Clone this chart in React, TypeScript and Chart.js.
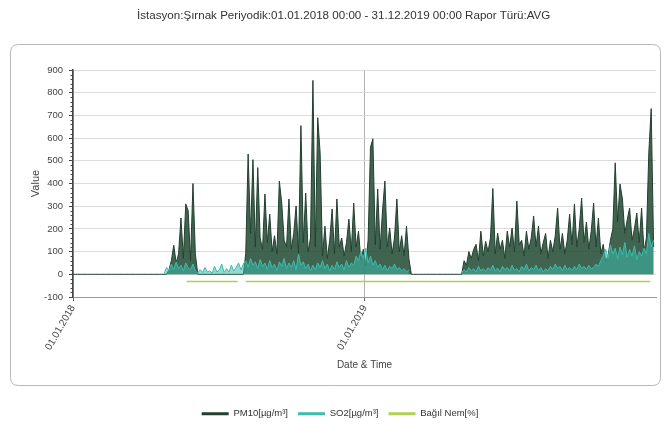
import React, { useEffect, useRef } from "react";
import { Chart, registerables } from "chart.js";

Chart.register(...registerables);

const TITLE = "İstasyon:Şırnak Periyodik:01.01.2018 00:00 - 31.12.2019 00:00 Rapor Türü:AVG";
const SERIES_NAMES = ["PM10[µg/m³]", "SO2[µg/m³]", "Bağıl Nem[%]"];
const X_TICK_DAYS = [0, 365];
const X_TICK_LABELS = ["01.01.2018", "01.01.2019"];
const X_MAX_DAY = 729;
const DAY_STEP = 3;
const Y_MIN = -100;
const Y_MAX = 900;
const Y_STEP = 100;
const Y_MINOR_STEP = 20;

// PM10, one value every 3 days from 01.01.2018
const pm10: (number | null)[] = [
  0, 0, 0, 0, 0, 0, 0, 0, 0, 0,
  0, 0, 0, 0, 0, 0, 0, 0, 0, 0,
  0, 0, 0, 0, 0, 0, 0, 0, 0, 0,
  0, 0, 0, 0, 0, 0, 0, 0, 0, 0,
  20, 60, 128, 50, 90, 248, 70, 310, 280, 60,
  400, 90, 0, 0, 0, 0, 0, 0, 0, 0,
  0, 0, 0, 0, 0, 0, 0, 0, 0, 0,
  0, 0, 90, 530, 180, 505, 120, 470, 160, 110,
  354, 140, 265, 100, 170, 90, 411, 314, 150, 120,
  332, 110, 180, 301, 90, 655, 140, 358, 100, 160,
  854, 120, 690, 535, 80, 212, 70, 150, 288, 90,
  332, 120, 160, 80, 140, 243, 100, 314, 120, 190,
  60, 110, 40, 150, 560, 597, 130, 376, 110, 279,
  411, 120, 204, 90, 160, 332, 100, 170, 80, 212,
  70, 0, 0, 0, 0, 0, 0, 0, 0, 0,
  0, 0, 0, 0, 0, 0, 0, 0, 0, 0,
  0, 0, 0, 60, 40, 100, 70, 110, 132, 60,
  190, 80, 145, 100, 160, 378, 90, 181, 110, 150,
  70, 190, 120, 204, 100, 323, 130, 150, 80, 190,
  110, 160, 257, 120, 212, 90, 140, 180, 70, 150,
  100, 170, 292, 110, 180, 90, 150, 265, 130, 310,
  120, 200, 336, 140, 230, 110, 190, 314, 120, 248,
  90, 132, 60, 80, 150, 200, 491, 230, 398, 332,
  180, 240, 292, 150, 200, 270, 140, 292, 100, 160,
  535, 730, 120, null,
];

// SO2, same dates
const so2: (number | null)[] = [
  null, null, null, null, null, null, null, null, null, null,
  null, null, null, null, null, null, null, null, null, null,
  null, null, null, null, null, null, null, null, null, null,
  null, null, null, null, null, null, null, null, 5, 30,
  15, 45, 20, 55, 25, 40, 15, 50, 30, 20,
  45, 15, 5, 20, 8, 30, 10, 15, 5, 35,
  10, 20, 45, 8, 25, 10, 40, 15, 30, 50,
  20, 45, 60, 30, 70, 40, 55, 25, 65, 35,
  50, 20, 60, 30, 45, 15, 55, 35, 70, 25,
  50, 30, 60, 20, 90, 40, 55, 25, 45, 15,
  40, 20, 50, 30, 60, 25, 45, 15, 40, 20,
  55, 30, 45, 20, 60, 30, 50, 40, 80, 60,
  100, 70, 115, 50, 80, 40, 60, 30, 45, 20,
  40, 15, 35, 25, 45, 20, 30, 15, 25, 10,
  20, null, null, null, null, null, null, null, null, null,
  null, null, null, null, null, null, null, null, null, null,
  null, null, 8, 20, 10, 30, 15, 25, 10, 35,
  15, 25, 12, 30, 18, 40, 15, 28, 10, 35,
  20, 30, 12, 40, 18, 25, 10, 35, 20, 45,
  15, 30, 20, 40, 15, 30, 10, 25, 15, 35,
  20, 45, 25, 35, 15, 40, 20, 30, 15, 35,
  20, 45, 25, 35, 20, 40, 25, 30, 45, 35,
  60, 80, 110, 70, 130, 90, 115, 70, 120, 85,
  140, 75, 110, 80, 125, 65, 100, 80, 115, 90,
  180, 120, 150, null,
];

// Relative humidity (flat line as drawn)
const humDays = [142, 206, 210, 216, 722];
const humValues: (number | null)[] = [-32, -32, null, -32, -32];

const COLORS = ["#223f30", "#3dbcac", "#b3cf52"];
const FILLS = ["rgba(34,74,52,0.86)", "rgba(61,188,172,0.55)", "transparent"];

const days = pm10.map((_, i) => i * DAY_STEP);
const FONT = "'Liberation Sans', Arial, sans-serif";

export default function App() {
  const ref = useRef<HTMLCanvasElement | null>(null);

  useEffect(() => {
    if (!ref.current) return;

    const boxPlugin = {
      id: "frameBox",
      beforeDraw(chart: any) {
        const ctx = chart.ctx;
        ctx.save();
        ctx.fillStyle = "#ffffff";
        ctx.fillRect(0, 0, chart.width, chart.height);
        const x = 10.5, y = 44.5, w = 650, h = 341, r = 8;
        ctx.beginPath();
        ctx.moveTo(x + r, y);
        ctx.lineTo(x + w - r, y);
        ctx.quadraticCurveTo(x + w, y, x + w, y + r);
        ctx.lineTo(x + w, y + h - r);
        ctx.quadraticCurveTo(x + w, y + h, x + w - r, y + h);
        ctx.lineTo(x + r, y + h);
        ctx.quadraticCurveTo(x, y + h, x, y + h - r);
        ctx.lineTo(x, y + r);
        ctx.quadraticCurveTo(x, y, x + r, y);
        ctx.closePath();
        ctx.strokeStyle = "#b8b8b8";
        ctx.lineWidth = 1;
        ctx.stroke();
        ctx.restore();
      },
    };

    const minorTicks = {
      id: "minorTicks",
      afterDraw(chart: any) {
        const ys = chart.scales.y;
        const ctx = chart.ctx;
        const left = chart.chartArea.left;
        ctx.save();
        ctx.strokeStyle = "#444";
        ctx.lineWidth = 1;
        for (let v = Y_MIN; v <= Y_MAX; v += Y_MINOR_STEP) {
          if (v % Y_STEP === 0) continue;
          const py = Math.round(ys.getPixelForValue(v)) + 0.5;
          ctx.beginPath();
          ctx.moveTo(left - 2.5, py);
          ctx.lineTo(left, py);
          ctx.stroke();
        }
        ctx.restore();
      },
    };

    const chart = new Chart(ref.current, {
      type: "line",
      data: {
        datasets: [
          {
            label: SERIES_NAMES[0],
            data: pm10.map((v, i) => ({ x: days[i], y: v })) as any,
            borderColor: COLORS[0],
            backgroundColor: FILLS[0],
            fill: "origin",
            borderWidth: 1,
            pointRadius: 0,
            order: 2,
          },
          {
            label: SERIES_NAMES[1],
            data: so2.map((v, i) => ({ x: days[i], y: v })) as any,
            borderColor: COLORS[1],
            backgroundColor: FILLS[1],
            fill: "origin",
            borderWidth: 1,
            pointRadius: 0,
            order: 1,
          },
          {
            label: SERIES_NAMES[2],
            data: humValues.map((v, i) => ({ x: humDays[i], y: v })) as any,
            borderColor: COLORS[2],
            backgroundColor: FILLS[2],
            fill: false,
            borderWidth: 1.5,
            pointRadius: 0,
            order: 0,
          },
        ],
      },
      options: {
        responsive: false,
        animation: false,
        devicePixelRatio: 1,
        layout: { padding: { left: 24, right: 9, top: 70, bottom: 5.5 } },
        font: { family: FONT } as any,
        plugins: {
          title: { display: false },
          tooltip: { enabled: false },
          legend: {
            position: "bottom",
            labels: {
              boxWidth: 27,
              boxHeight: 3,
              padding: 10,
              color: "#333",
              font: { size: 9.5, family: FONT },
              generateLabels: (c: any) =>
                c.data.datasets.map((ds: any, i: number) => ({
                  text: ds.label,
                  fillStyle: ds.borderColor,
                  strokeStyle: ds.borderColor,
                  lineWidth: 0,
                  hidden: false,
                  datasetIndex: i,
                  fontColor: "#333",
                })),
            },
          },
        },
        scales: {
          x: {
            type: "linear",
            min: 0,
            max: X_MAX_DAY,
            afterBuildTicks: (scale: any) => {
              scale.ticks = X_TICK_DAYS.map((v) => ({ value: v }));
            },
            afterFit: (scale: any) => {
              scale.height = 102;
            },
            ticks: {
              autoSkip: false,
              minRotation: 60,
              maxRotation: 60,
              padding: 2,
              color: "#444",
              font: { size: 10, family: FONT },
              callback: (v: any) => {
                const idx = X_TICK_DAYS.indexOf(Number(v));
                return idx >= 0 ? X_TICK_LABELS[idx] : "";
              },
            },
            grid: { color: "#b0b0b0", tickColor: "#666", tickLength: 4 },
            border: { color: "#999", width: 1 },
            title: {
              display: true,
              text: "Date & Time",
              color: "#444",
              font: { size: 10, family: FONT },
              padding: { top: 0, bottom: 28 },
            },
          },
          y: {
            min: Y_MIN,
            max: Y_MAX,
            afterFit: (scale: any) => {
              scale.width = 49;
            },
            ticks: {
              stepSize: Y_STEP,
              padding: 6,
              color: "#444",
              font: { size: 9.5, family: FONT },
            },
            grid: { color: "#dcdcdc", tickColor: "#444", tickLength: 4 },
            border: { color: "#444", width: 1.5 },
            title: {
              display: true,
              text: "Value",
              color: "#444",
              font: { size: 11, family: FONT },
              padding: { top: 5, bottom: 0 },
            },
          },
        },
      },
      plugins: [boxPlugin, minorTicks],
    });

    return () => chart.destroy();
  }, []);

  return (
    <div style={{ position: "fixed", left: 0, top: 0, width: 665, height: 434, background: "#fff" }}>
      <canvas ref={ref} width={665} height={434} style={{ position: "absolute", left: 0, top: 0, width: 665, height: 434 }} />
      <div
        style={{
          position: "absolute",
          left: 137,
          top: 8,
          whiteSpace: "nowrap",
          fontFamily: FONT,
          fontSize: 11.6,
          lineHeight: "13px",
          color: "#333",
        }}
      >
        {TITLE}
      </div>
    </div>
  );
}
